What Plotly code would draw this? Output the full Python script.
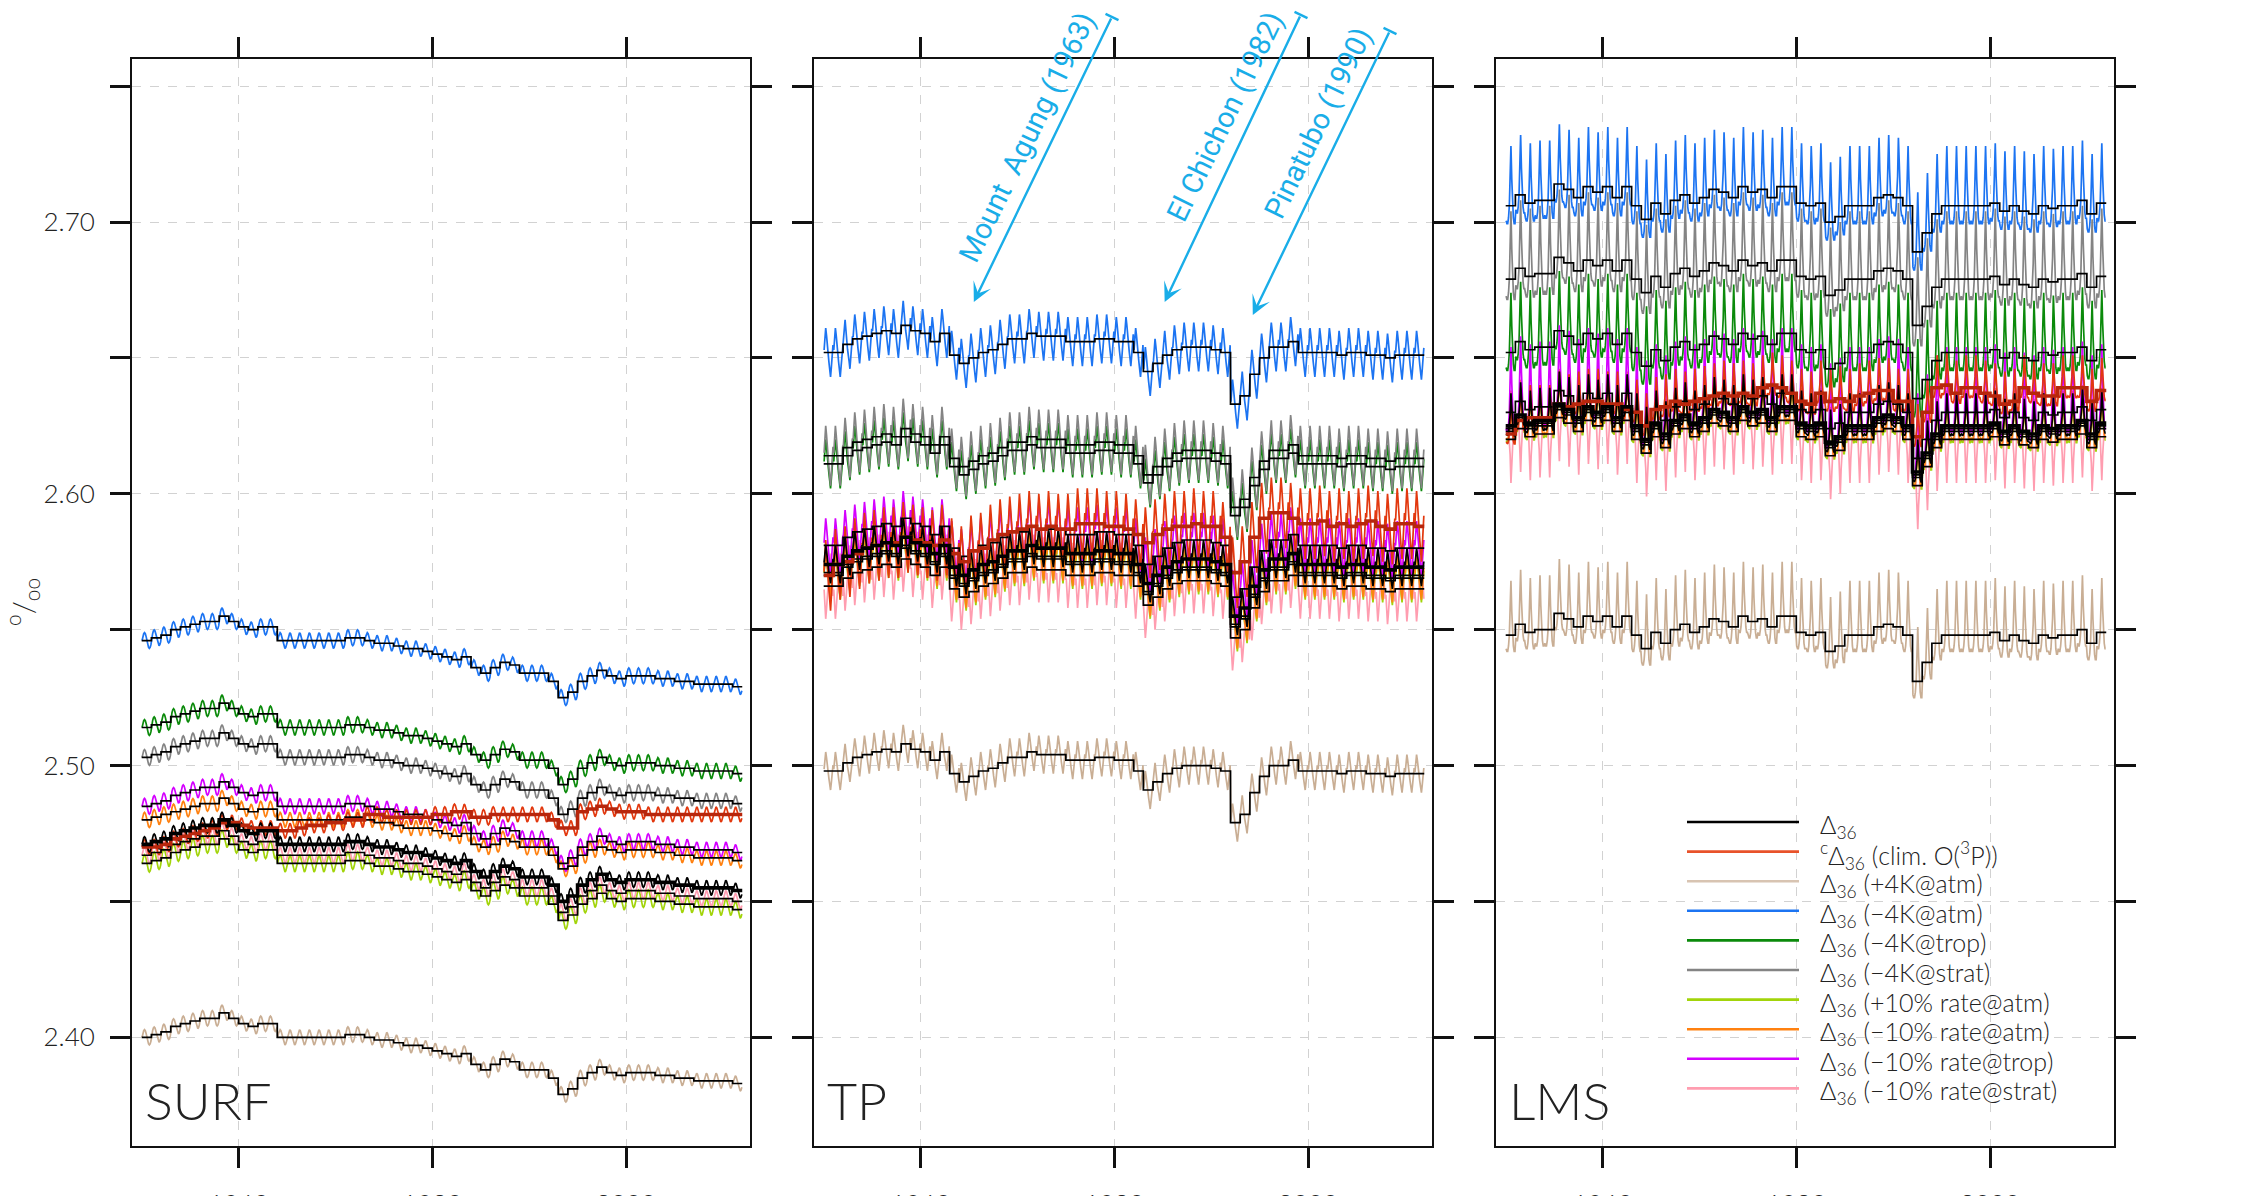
import numpy as np
import plotly.graph_objects as go

# ---------------- data (per mil), annual means 1950-2011 ----------------
YEARS = list(range(1950, 2012))

SURF_BASE = [2.471, 2.472, 2.473, 2.475, 2.476, 2.477, 2.478, 2.478, 2.480, 2.478,
             2.476, 2.475, 2.476, 2.476, 2.471, 2.471, 2.471, 2.471, 2.471, 2.471,
             2.471, 2.472, 2.472, 2.471, 2.470, 2.470, 2.469, 2.468, 2.468, 2.467,
             2.466, 2.465, 2.464, 2.465, 2.461, 2.459, 2.461, 2.463, 2.462, 2.459,
             2.459, 2.459, 2.456, 2.450, 2.452, 2.456, 2.458, 2.460, 2.458, 2.457,
             2.458, 2.458, 2.458, 2.457, 2.457, 2.456, 2.456, 2.455, 2.455, 2.455,
             2.455, 2.454]
SURF_CLIM = [2.470, 2.470, 2.471, 2.473, 2.474, 2.475, 2.476, 2.477, 2.479, 2.479,
             2.478, 2.477, 2.477, 2.477, 2.476, 2.476, 2.477, 2.478, 2.478, 2.479,
             2.479, 2.480, 2.480, 2.482, 2.482, 2.481, 2.481, 2.481, 2.481, 2.481,
             2.482, 2.482, 2.483, 2.483, 2.481, 2.481, 2.482, 2.482, 2.482, 2.482,
             2.482, 2.482, 2.480, 2.477, 2.477, 2.483, 2.484, 2.485, 2.484, 2.483,
             2.483, 2.483, 2.482, 2.482, 2.482, 2.482, 2.482, 2.482, 2.482, 2.482,
             2.482, 2.482]
SURF_P4K_ATM = [2.400, 2.401, 2.402, 2.404, 2.405, 2.406, 2.407, 2.407, 2.409, 2.407,
                2.405, 2.404, 2.405, 2.405, 2.400, 2.400, 2.400, 2.400, 2.400, 2.400,
                2.400, 2.401, 2.401, 2.400, 2.399, 2.399, 2.398, 2.397, 2.397, 2.396,
                2.395, 2.394, 2.393, 2.394, 2.390, 2.388, 2.390, 2.392, 2.391, 2.388,
                2.388, 2.388, 2.385, 2.379, 2.381, 2.385, 2.387, 2.389, 2.387, 2.386,
                2.387, 2.387, 2.387, 2.386, 2.386, 2.385, 2.385, 2.384, 2.384, 2.384,
                2.384, 2.383]
SURF_M4K_ATM = [2.546, 2.547, 2.548, 2.550, 2.551, 2.552, 2.553, 2.553, 2.555, 2.553,
                2.551, 2.550, 2.551, 2.551, 2.546, 2.546, 2.546, 2.546, 2.546, 2.546,
                2.546, 2.547, 2.547, 2.546, 2.545, 2.545, 2.544, 2.543, 2.543, 2.542,
                2.541, 2.540, 2.539, 2.540, 2.536, 2.534, 2.536, 2.538, 2.537, 2.534,
                2.534, 2.534, 2.531, 2.525, 2.527, 2.531, 2.533, 2.535, 2.533, 2.532,
                2.533, 2.533, 2.533, 2.532, 2.532, 2.531, 2.531, 2.530, 2.530, 2.530,
                2.530, 2.529]
SURF_M4K_TROP = [2.514, 2.515, 2.516, 2.518, 2.519, 2.520, 2.521, 2.521, 2.523, 2.521,
                 2.519, 2.518, 2.519, 2.519, 2.514, 2.514, 2.514, 2.514, 2.514, 2.514,
                 2.514, 2.515, 2.515, 2.514, 2.513, 2.513, 2.512, 2.511, 2.511, 2.510,
                 2.509, 2.508, 2.507, 2.508, 2.504, 2.502, 2.504, 2.506, 2.505, 2.502,
                 2.502, 2.502, 2.499, 2.493, 2.495, 2.499, 2.501, 2.503, 2.501, 2.500,
                 2.501, 2.501, 2.501, 2.500, 2.500, 2.499, 2.499, 2.498, 2.498, 2.498,
                 2.498, 2.497]
SURF_M4K_STRAT = [2.503, 2.504, 2.505, 2.507, 2.508, 2.509, 2.510, 2.510, 2.512, 2.510,
                  2.508, 2.507, 2.508, 2.508, 2.503, 2.503, 2.503, 2.503, 2.503, 2.503,
                  2.503, 2.504, 2.504, 2.503, 2.502, 2.502, 2.501, 2.500, 2.500, 2.499,
                  2.498, 2.497, 2.496, 2.497, 2.493, 2.491, 2.493, 2.495, 2.494, 2.491,
                  2.491, 2.491, 2.488, 2.482, 2.484, 2.488, 2.490, 2.492, 2.490, 2.489,
                  2.490, 2.490, 2.490, 2.489, 2.489, 2.488, 2.488, 2.487, 2.487, 2.487,
                  2.487, 2.486]
SURF_P10_ATM = [2.464, 2.465, 2.466, 2.468, 2.469, 2.470, 2.471, 2.471, 2.473, 2.471,
                2.469, 2.468, 2.469, 2.469, 2.464, 2.464, 2.464, 2.464, 2.464, 2.464,
                2.464, 2.465, 2.465, 2.464, 2.463, 2.463, 2.462, 2.461, 2.461, 2.460,
                2.459, 2.458, 2.457, 2.458, 2.454, 2.452, 2.454, 2.456, 2.455, 2.452,
                2.452, 2.452, 2.449, 2.443, 2.445, 2.449, 2.451, 2.453, 2.451, 2.450,
                2.451, 2.451, 2.451, 2.450, 2.450, 2.449, 2.449, 2.448, 2.448, 2.448,
                2.448, 2.447]
SURF_M10_ATM = [2.480, 2.481, 2.482, 2.483, 2.484, 2.485, 2.486, 2.486, 2.488, 2.486,
                2.484, 2.483, 2.484, 2.484, 2.480, 2.480, 2.480, 2.480, 2.480, 2.480,
                2.480, 2.481, 2.481, 2.480, 2.479, 2.479, 2.478, 2.477, 2.477, 2.477,
                2.476, 2.475, 2.474, 2.475, 2.471, 2.470, 2.471, 2.473, 2.472, 2.470,
                2.470, 2.470, 2.467, 2.462, 2.463, 2.467, 2.469, 2.470, 2.469, 2.468,
                2.469, 2.469, 2.469, 2.468, 2.468, 2.467, 2.467, 2.466, 2.466, 2.466,
                2.466, 2.465]
SURF_M10_TROP = [2.485, 2.486, 2.487, 2.489, 2.490, 2.491, 2.492, 2.492, 2.494, 2.492,
                 2.490, 2.489, 2.490, 2.490, 2.485, 2.485, 2.485, 2.485, 2.485, 2.485,
                 2.485, 2.486, 2.486, 2.485, 2.484, 2.484, 2.483, 2.482, 2.482, 2.481,
                 2.480, 2.479, 2.478, 2.479, 2.475, 2.473, 2.475, 2.477, 2.476, 2.473,
                 2.473, 2.473, 2.470, 2.464, 2.466, 2.470, 2.472, 2.474, 2.472, 2.471,
                 2.472, 2.472, 2.472, 2.471, 2.471, 2.470, 2.470, 2.469, 2.469, 2.469,
                 2.469, 2.468]
SURF_M10_STRAT = [2.467, 2.468, 2.469, 2.471, 2.472, 2.473, 2.474, 2.474, 2.476, 2.474,
                  2.472, 2.471, 2.472, 2.472, 2.467, 2.467, 2.467, 2.467, 2.467, 2.467,
                  2.467, 2.468, 2.468, 2.467, 2.466, 2.466, 2.465, 2.464, 2.464, 2.463,
                  2.462, 2.461, 2.460, 2.461, 2.457, 2.455, 2.457, 2.459, 2.458, 2.455,
                  2.455, 2.455, 2.452, 2.446, 2.448, 2.452, 2.454, 2.456, 2.454, 2.453,
                  2.454, 2.454, 2.454, 2.453, 2.453, 2.452, 2.452, 2.451, 2.451, 2.451,
                  2.451, 2.450]

TP_BASE = [2.574, 2.574, 2.577, 2.579, 2.580, 2.581, 2.582, 2.581, 2.584, 2.582,
           2.581, 2.578, 2.581, 2.573, 2.570, 2.572, 2.574, 2.575, 2.577, 2.579,
           2.579, 2.581, 2.580, 2.580, 2.580, 2.578, 2.578, 2.578, 2.579, 2.579,
           2.578, 2.578, 2.574, 2.567, 2.570, 2.573, 2.575, 2.576, 2.576, 2.576,
           2.575, 2.574, 2.555, 2.558, 2.566, 2.572, 2.576, 2.576, 2.578, 2.574,
           2.574, 2.574, 2.574, 2.573, 2.574, 2.574, 2.573, 2.573, 2.572, 2.573,
           2.573, 2.573]
TP_CLIM = [2.570, 2.574, 2.575, 2.578, 2.580, 2.581, 2.582, 2.582, 2.584, 2.583,
           2.582, 2.581, 2.583, 2.578, 2.575, 2.579, 2.580, 2.583, 2.585, 2.586,
           2.587, 2.588, 2.587, 2.588, 2.587, 2.587, 2.589, 2.589, 2.589, 2.588,
           2.588, 2.587, 2.585, 2.582, 2.585, 2.587, 2.588, 2.588, 2.589, 2.588,
           2.588, 2.584, 2.571, 2.575, 2.584, 2.591, 2.593, 2.593, 2.591, 2.589,
           2.589, 2.590, 2.588, 2.589, 2.588, 2.589, 2.590, 2.588, 2.587, 2.589,
           2.589, 2.588]
TP_P4K_ATM = [2.498, 2.498, 2.501, 2.503, 2.504, 2.505, 2.506, 2.505, 2.508, 2.506,
              2.505, 2.502, 2.505, 2.497, 2.494, 2.496, 2.498, 2.499, 2.501, 2.503,
              2.503, 2.505, 2.504, 2.504, 2.504, 2.502, 2.502, 2.502, 2.503, 2.503,
              2.502, 2.502, 2.498, 2.491, 2.494, 2.497, 2.499, 2.500, 2.500, 2.500,
              2.499, 2.498, 2.479, 2.482, 2.490, 2.496, 2.500, 2.500, 2.502, 2.498,
              2.498, 2.498, 2.498, 2.497, 2.498, 2.498, 2.497, 2.497, 2.496, 2.497,
              2.497, 2.497]
TP_M4K_ATM = [2.652, 2.652, 2.655, 2.657, 2.658, 2.659, 2.660, 2.659, 2.662, 2.660,
              2.659, 2.656, 2.659, 2.651, 2.648, 2.650, 2.652, 2.653, 2.655, 2.657,
              2.657, 2.659, 2.658, 2.658, 2.658, 2.656, 2.656, 2.656, 2.657, 2.657,
              2.656, 2.656, 2.652, 2.645, 2.648, 2.651, 2.653, 2.654, 2.654, 2.654,
              2.653, 2.652, 2.633, 2.636, 2.644, 2.650, 2.654, 2.654, 2.656, 2.652,
              2.652, 2.652, 2.652, 2.651, 2.652, 2.652, 2.651, 2.651, 2.650, 2.651,
              2.651, 2.651]
TP_M4K_TROP = [2.611, 2.611, 2.614, 2.616, 2.617, 2.618, 2.619, 2.618, 2.621, 2.619,
               2.618, 2.615, 2.618, 2.610, 2.607, 2.609, 2.611, 2.612, 2.614, 2.616,
               2.616, 2.618, 2.617, 2.617, 2.617, 2.615, 2.615, 2.615, 2.616, 2.616,
               2.615, 2.615, 2.611, 2.604, 2.607, 2.610, 2.612, 2.613, 2.613, 2.613,
               2.612, 2.611, 2.592, 2.595, 2.603, 2.609, 2.613, 2.613, 2.615, 2.611,
               2.611, 2.611, 2.611, 2.610, 2.611, 2.611, 2.610, 2.610, 2.609, 2.610,
               2.610, 2.610]
TP_M4K_STRAT = [2.614, 2.614, 2.617, 2.619, 2.620, 2.621, 2.622, 2.621, 2.624, 2.622,
                2.621, 2.618, 2.621, 2.613, 2.610, 2.612, 2.614, 2.615, 2.617, 2.619,
                2.619, 2.621, 2.620, 2.620, 2.620, 2.618, 2.618, 2.618, 2.619, 2.619,
                2.618, 2.618, 2.614, 2.607, 2.610, 2.613, 2.615, 2.616, 2.616, 2.616,
                2.615, 2.614, 2.595, 2.598, 2.606, 2.612, 2.616, 2.616, 2.618, 2.614,
                2.614, 2.614, 2.614, 2.613, 2.614, 2.614, 2.613, 2.613, 2.612, 2.613,
                2.613, 2.613]
TP_P10_ATM = [2.570, 2.570, 2.573, 2.575, 2.576, 2.577, 2.578, 2.577, 2.580, 2.578,
              2.577, 2.574, 2.577, 2.569, 2.566, 2.568, 2.570, 2.571, 2.573, 2.575,
              2.575, 2.577, 2.576, 2.576, 2.576, 2.574, 2.574, 2.574, 2.575, 2.575,
              2.574, 2.574, 2.570, 2.563, 2.566, 2.569, 2.571, 2.572, 2.572, 2.572,
              2.571, 2.570, 2.551, 2.554, 2.562, 2.568, 2.572, 2.572, 2.574, 2.570,
              2.570, 2.570, 2.570, 2.569, 2.570, 2.570, 2.569, 2.569, 2.568, 2.569,
              2.569, 2.569]
TP_M10_ATM = [2.571, 2.571, 2.574, 2.576, 2.577, 2.578, 2.579, 2.578, 2.581, 2.579,
              2.578, 2.575, 2.578, 2.570, 2.567, 2.569, 2.571, 2.572, 2.574, 2.576,
              2.576, 2.578, 2.577, 2.577, 2.577, 2.575, 2.575, 2.575, 2.576, 2.576,
              2.575, 2.575, 2.571, 2.564, 2.567, 2.570, 2.572, 2.573, 2.573, 2.573,
              2.572, 2.571, 2.552, 2.555, 2.563, 2.569, 2.573, 2.573, 2.575, 2.571,
              2.571, 2.571, 2.571, 2.570, 2.571, 2.571, 2.570, 2.570, 2.569, 2.570,
              2.570, 2.570]
TP_M10_TROP = [2.581, 2.581, 2.584, 2.586, 2.587, 2.588, 2.589, 2.588, 2.591, 2.589,
               2.588, 2.585, 2.588, 2.580, 2.577, 2.579, 2.581, 2.582, 2.584, 2.586,
               2.586, 2.588, 2.587, 2.587, 2.587, 2.585, 2.585, 2.585, 2.586, 2.586,
               2.585, 2.585, 2.581, 2.574, 2.577, 2.580, 2.582, 2.583, 2.583, 2.583,
               2.582, 2.581, 2.562, 2.565, 2.573, 2.579, 2.583, 2.583, 2.585, 2.581,
               2.581, 2.581, 2.581, 2.580, 2.581, 2.581, 2.580, 2.580, 2.579, 2.580,
               2.580, 2.580]
TP_M10_STRAT = [2.566, 2.566, 2.569, 2.571, 2.572, 2.573, 2.574, 2.573, 2.576, 2.574,
                2.573, 2.570, 2.573, 2.565, 2.562, 2.564, 2.566, 2.567, 2.569, 2.571,
                2.571, 2.573, 2.572, 2.572, 2.572, 2.570, 2.570, 2.570, 2.571, 2.571,
                2.570, 2.570, 2.566, 2.559, 2.562, 2.565, 2.567, 2.568, 2.568, 2.568,
                2.567, 2.566, 2.547, 2.550, 2.558, 2.564, 2.568, 2.568, 2.570, 2.566,
                2.566, 2.566, 2.566, 2.565, 2.566, 2.566, 2.565, 2.565, 2.564, 2.565,
                2.565, 2.565]

LMS_BASE = [2.625, 2.629, 2.626, 2.627, 2.627, 2.633, 2.631, 2.628, 2.632, 2.630,
            2.632, 2.628, 2.632, 2.625, 2.620, 2.626, 2.622, 2.627, 2.629, 2.626,
            2.628, 2.631, 2.630, 2.628, 2.632, 2.630, 2.631, 2.628, 2.632, 2.632,
            2.626, 2.625, 2.626, 2.619, 2.621, 2.625, 2.625, 2.625, 2.628, 2.629,
            2.628, 2.625, 2.608, 2.615, 2.622, 2.625, 2.625, 2.625, 2.625, 2.625,
            2.626, 2.623, 2.625, 2.623, 2.622, 2.625, 2.624, 2.625, 2.625, 2.627,
            2.622, 2.626]
LMS_CLIM = [2.622, 2.627, 2.628, 2.628, 2.628, 2.633, 2.632, 2.633, 2.634, 2.634,
            2.633, 2.633, 2.631, 2.630, 2.625, 2.631, 2.632, 2.634, 2.633, 2.634,
            2.635, 2.636, 2.637, 2.636, 2.637, 2.636, 2.639, 2.640, 2.639, 2.637,
            2.634, 2.633, 2.637, 2.634, 2.635, 2.634, 2.636, 2.637, 2.638, 2.638,
            2.634, 2.634, 2.621, 2.630, 2.639, 2.640, 2.637, 2.639, 2.639, 2.637,
            2.636, 2.633, 2.634, 2.639, 2.637, 2.636, 2.636, 2.639, 2.639, 2.639,
            2.634, 2.638]
LMS_P4K_ATM = [2.548, 2.552, 2.549, 2.550, 2.550, 2.556, 2.554, 2.551, 2.555, 2.553,
               2.555, 2.551, 2.555, 2.548, 2.543, 2.549, 2.545, 2.550, 2.552, 2.549,
               2.551, 2.554, 2.553, 2.551, 2.555, 2.553, 2.554, 2.551, 2.555, 2.555,
               2.549, 2.548, 2.549, 2.542, 2.544, 2.548, 2.548, 2.548, 2.551, 2.552,
               2.551, 2.548, 2.531, 2.538, 2.545, 2.548, 2.548, 2.548, 2.548, 2.548,
               2.549, 2.546, 2.548, 2.546, 2.545, 2.548, 2.547, 2.548, 2.548, 2.550,
               2.545, 2.549]
LMS_M4K_ATM = [2.706, 2.710, 2.707, 2.708, 2.708, 2.714, 2.712, 2.709, 2.713, 2.711,
               2.713, 2.709, 2.713, 2.706, 2.701, 2.707, 2.703, 2.708, 2.710, 2.707,
               2.709, 2.712, 2.711, 2.709, 2.713, 2.711, 2.712, 2.709, 2.713, 2.713,
               2.707, 2.706, 2.707, 2.700, 2.702, 2.706, 2.706, 2.706, 2.709, 2.710,
               2.709, 2.706, 2.689, 2.696, 2.703, 2.706, 2.706, 2.706, 2.706, 2.706,
               2.707, 2.704, 2.706, 2.704, 2.703, 2.706, 2.705, 2.706, 2.706, 2.708,
               2.703, 2.707]
LMS_M4K_TROP = [2.652, 2.656, 2.653, 2.654, 2.654, 2.660, 2.658, 2.655, 2.659, 2.657,
                2.659, 2.655, 2.659, 2.652, 2.647, 2.653, 2.649, 2.654, 2.656, 2.653,
                2.655, 2.658, 2.657, 2.655, 2.659, 2.657, 2.658, 2.655, 2.659, 2.659,
                2.653, 2.652, 2.653, 2.646, 2.648, 2.652, 2.652, 2.652, 2.655, 2.656,
                2.655, 2.652, 2.635, 2.642, 2.649, 2.652, 2.652, 2.652, 2.652, 2.652,
                2.653, 2.650, 2.652, 2.650, 2.649, 2.652, 2.651, 2.652, 2.652, 2.654,
                2.649, 2.653]
LMS_M4K_STRAT = [2.679, 2.683, 2.680, 2.681, 2.681, 2.687, 2.685, 2.682, 2.686, 2.684,
                 2.686, 2.682, 2.686, 2.679, 2.674, 2.680, 2.676, 2.681, 2.683, 2.680,
                 2.682, 2.685, 2.684, 2.682, 2.686, 2.684, 2.685, 2.682, 2.686, 2.686,
                 2.680, 2.679, 2.680, 2.673, 2.675, 2.679, 2.679, 2.679, 2.682, 2.683,
                 2.682, 2.679, 2.662, 2.669, 2.676, 2.679, 2.679, 2.679, 2.679, 2.679,
                 2.680, 2.677, 2.679, 2.677, 2.676, 2.679, 2.678, 2.679, 2.679, 2.681,
                 2.676, 2.680]
LMS_P10_ATM = [2.623, 2.627, 2.624, 2.625, 2.625, 2.631, 2.629, 2.626, 2.630, 2.628,
               2.630, 2.626, 2.630, 2.623, 2.618, 2.624, 2.620, 2.625, 2.627, 2.624,
               2.626, 2.629, 2.628, 2.626, 2.630, 2.628, 2.629, 2.626, 2.630, 2.630,
               2.624, 2.623, 2.624, 2.617, 2.619, 2.623, 2.623, 2.623, 2.626, 2.627,
               2.626, 2.623, 2.606, 2.613, 2.620, 2.623, 2.623, 2.623, 2.623, 2.623,
               2.624, 2.621, 2.623, 2.621, 2.620, 2.623, 2.622, 2.623, 2.623, 2.625,
               2.620, 2.624]
LMS_M10_ATM = [2.624, 2.628, 2.625, 2.626, 2.626, 2.632, 2.630, 2.627, 2.631, 2.629,
               2.631, 2.627, 2.631, 2.624, 2.619, 2.625, 2.621, 2.626, 2.628, 2.625,
               2.627, 2.630, 2.629, 2.627, 2.631, 2.629, 2.630, 2.627, 2.631, 2.631,
               2.625, 2.624, 2.625, 2.618, 2.620, 2.624, 2.624, 2.624, 2.627, 2.628,
               2.627, 2.624, 2.607, 2.614, 2.621, 2.624, 2.624, 2.624, 2.624, 2.624,
               2.625, 2.622, 2.624, 2.622, 2.621, 2.624, 2.623, 2.624, 2.624, 2.626,
               2.621, 2.625]
LMS_M10_TROP = [2.630, 2.634, 2.631, 2.632, 2.632, 2.638, 2.636, 2.633, 2.637, 2.635,
                2.637, 2.633, 2.637, 2.630, 2.625, 2.631, 2.627, 2.632, 2.634, 2.631,
                2.633, 2.636, 2.635, 2.633, 2.637, 2.635, 2.636, 2.633, 2.637, 2.637,
                2.631, 2.630, 2.631, 2.624, 2.626, 2.630, 2.630, 2.630, 2.633, 2.634,
                2.633, 2.630, 2.613, 2.620, 2.627, 2.630, 2.630, 2.630, 2.630, 2.630,
                2.631, 2.628, 2.630, 2.628, 2.627, 2.630, 2.629, 2.630, 2.630, 2.632,
                2.627, 2.631]
LMS_M10_STRAT = [2.620, 2.624, 2.621, 2.622, 2.622, 2.628, 2.626, 2.623, 2.627, 2.625,
                 2.627, 2.623, 2.627, 2.620, 2.615, 2.621, 2.617, 2.622, 2.624, 2.621,
                 2.623, 2.626, 2.625, 2.623, 2.627, 2.625, 2.626, 2.623, 2.627, 2.627,
                 2.621, 2.620, 2.621, 2.614, 2.616, 2.620, 2.620, 2.620, 2.623, 2.624,
                 2.623, 2.620, 2.603, 2.610, 2.617, 2.620, 2.620, 2.620, 2.620, 2.620,
                 2.621, 2.618, 2.620, 2.618, 2.617, 2.620, 2.619, 2.620, 2.620, 2.622,
                 2.617, 2.621]

# Seasonal (monthly) anomaly shapes, normalised, and per-series amplitudes (per mil)
SURF_SEASON = [0.0, 0.5, 0.87, 1.0, 0.87, 0.5, 0.0, -0.5, -0.87, -1.0, -0.87, -0.5]
TP_SEASON = [0.1, 0.6, 1.0, 0.7, 0.2, -0.2, -0.4, -0.7, -1.0, -0.6, -0.1, 0.3]
LMS_SEASON = [-0.25, -0.3, -0.3, -0.2, 0.0, 0.35, 1.0, 0.45, 0.05, -0.2, -0.3, -0.3]

# order: base, clim, +4K atm, -4K atm, -4K trop, -4K strat, +10% atm, -10% atm, -10% trop, -10% strat
SURF_AMP = [0.0028, 0.0028, 0.0028, 0.0029, 0.0029, 0.0029, 0.0032, 0.0028, 0.0029, 0.0030]
TP_AMP = [0.007, 0.013, 0.007, 0.009, 0.009, 0.011, 0.009, 0.009, 0.010, -0.012]
LMS_AMP = [0.012, 0.012, 0.020, 0.022, 0.022, 0.025, 0.014, 0.014, 0.024, -0.016]

SERIES_NAMES = [
    "Δ<sub>36</sub>",
    "<sup>c</sup>Δ<sub>36</sub> (clim. O(<sup>3</sup>P))",
    "Δ<sub>36</sub> (+4K@atm)",
    "Δ<sub>36</sub> (−4K@atm)",
    "Δ<sub>36</sub> (−4K@trop)",
    "Δ<sub>36</sub> (−4K@strat)",
    "Δ<sub>36</sub> (+10% rate@atm)",
    "Δ<sub>36</sub> (−10% rate@atm)",
    "Δ<sub>36</sub> (−10% rate@trop)",
    "Δ<sub>36</sub> (−10% rate@strat)",
]
SERIES_COLORS = ["#000000", "#E2380E", "#C9AE94", "#1C74F2", "#0B8A0B",
                 "#848484", "#A2D40A", "#FF8110", "#D400FF", "#FF9DB0"]
LEGEND_COLORS = ["#000000", "#E8522A", "#D8C4B2", "#1C74F2", "#0B8A0B",
                 "#848484", "#A2D40A", "#FF8110", "#D400FF", "#FF9DB0"]
CLIM_STEP_COLOR = "#B8260C"

PANELS = [
    ("SURF", [SURF_BASE, SURF_CLIM, SURF_P4K_ATM, SURF_M4K_ATM, SURF_M4K_TROP, SURF_M4K_STRAT,
              SURF_P10_ATM, SURF_M10_ATM, SURF_M10_TROP, SURF_M10_STRAT], SURF_SEASON, SURF_AMP),
    ("TP", [TP_BASE, TP_CLIM, TP_P4K_ATM, TP_M4K_ATM, TP_M4K_TROP, TP_M4K_STRAT,
            TP_P10_ATM, TP_M10_ATM, TP_M10_TROP, TP_M10_STRAT], TP_SEASON, TP_AMP),
    ("LMS", [LMS_BASE, LMS_CLIM, LMS_P4K_ATM, LMS_M4K_ATM, LMS_M4K_TROP, LMS_M4K_STRAT,
             LMS_P10_ATM, LMS_M10_ATM, LMS_M10_TROP, LMS_M10_STRAT], LMS_SEASON, LMS_AMP),
]

X_TICKS = [1960, 1980, 2000]
Y_TICKS = [2.40, 2.45, 2.50, 2.55, 2.60, 2.65, 2.70, 2.75]
Y_TICKTEXT = ["2.40", "", "2.50", "", "2.60", "", "2.70", ""]

VOLCANOES = ["Mount  Agung (1963)", "El Chichon (1982)", "Pinatubo (1990)"]
VOLC_HEAD_YEAR = [1965.5, 1985.2, 1994.3]
VOLC_HEAD_VAL = [2.6706, 2.6706, 2.6658]

# ---------------- layout geometry ----------------
W, H = 2242, 1196
OFF = 8  # page body margin of the browser
ML, MR, MT, MB = 132 - OFF, 128 + OFF, 59 - OFF, 50 + OFF
PW, PH = W - ML - MR, H - MT - MB
DOMAINS = [[0.0, 0.3118], [0.3441, 0.6559], [0.6882, 1.0]]
FONT = "Lato"
CYAN = "#19ADE8"


def px(xp):
    return (xp - OFF - ML) / PW


def py(yp):
    return 1 - (yp - OFF - MT) / PH


order = [2, 3, 4, 5, 6, 9, 7, 8, 1, 0]  # drawing order of lines
fig = go.Figure()
n_years = len(YEARS)
month_x = (np.repeat(np.array(YEARS, dtype=float), 12)
           + np.tile((np.arange(12) + 0.5) / 12.0, n_years))
step_x = YEARS + [YEARS[-1] + 1]

for p, (label, series, season, amps) in enumerate(PANELS):
    xa = "x" if p == 0 else f"x{p + 1}"
    ya = "y" if p == 0 else f"y{p + 1}"
    season_arr = np.tile(np.array(season), n_years)
    for i in order:
        monthly = np.repeat(np.array(series[i]), 12) + amps[i] * season_arr
        fig.add_trace(go.Scatter(
            x=month_x, y=monthly, mode="lines", xaxis=xa, yaxis=ya,
            line=dict(color=SERIES_COLORS[i], width=1.7), hoverinfo="skip",
            showlegend=False))
    for i in order:
        vals = list(series[i]) + [series[i][-1]]
        if i == 0:
            col, wid = "#000000", 3.6
        elif i == 1:
            col, wid = CLIM_STEP_COLOR, 3.6
        else:
            col, wid = "#000000", 1.7
        fig.add_trace(go.Scatter(
            x=step_x, y=vals, mode="lines", line_shape="hv", xaxis=xa, yaxis=ya,
            line=dict(color=col, width=wid), hoverinfo="skip", showlegend=False))

axis_common = dict(
    showline=True, linecolor="#111111", linewidth=2, mirror="allticks",
    ticks="outside", ticklen=20, tickwidth=2.5, tickcolor="#111111",
    showgrid=True, gridcolor="#D2D2D2", griddash="dash", gridwidth=1.3,
    zeroline=False, automargin=False,
)
layout = dict(
    width=W, height=H, margin=dict(l=ML, r=MR, t=MT, b=MB, autoexpand=False),
    plot_bgcolor="white", paper_bgcolor="white", showlegend=False,
    font=dict(family=FONT, color="#222222"),
)
for p in range(3):
    xkey = "xaxis" if p == 0 else f"xaxis{p + 1}"
    ykey = "yaxis" if p == 0 else f"yaxis{p + 1}"
    ya = "y" if p == 0 else f"y{p + 1}"
    xa = "x" if p == 0 else f"x{p + 1}"
    layout[xkey] = dict(axis_common, domain=DOMAINS[p], anchor=ya,
                        range=[1949.0, 2012.8], tickvals=X_TICKS,
                        ticktext=[str(v) for v in X_TICKS],
                        tickfont=dict(size=26, family=FONT, color="#222222", weight=300),
                        ticklabelstandoff=14)
    layout[ykey] = dict(axis_common, domain=[0, 1], anchor=xa,
                        range=[2.36, 2.76], tickvals=Y_TICKS, ticktext=Y_TICKTEXT,
                        showticklabels=(p == 0),
                        tickfont=dict(size=26, family=FONT, color="#222222", weight=300),
                        ticklabelstandoff=10)
fig.update_layout(**layout)

annotations = []
shapes = []
for p, (label, _, _, _) in enumerate(PANELS):
    xa = "x" if p == 0 else f"x{p + 1}"
    ya = "y" if p == 0 else f"y{p + 1}"
    annotations.append(dict(
        text=label, xref=f"{xa} domain", yref=f"{ya} domain", x=0.018, y=0.012,
        xanchor="left", yanchor="bottom", showarrow=False,
        font=dict(size=52, family=FONT, color="#222222", weight=300)))

# y-axis unit label
annotations.append(dict(
    text="<sup>o</sup>/<sub>oo</sub>", xref="paper", yref="paper",
    x=px(22), y=py(602), textangle=-90, showarrow=False,
    xanchor="center", yanchor="middle",
    font=dict(size=30, family=FONT, color="#222222", weight=300)))

# volcano arrows (heads in TP data coordinates)
TAIL_OFFSETS = [(138, -285), (136, -287), (137, -284)]
HEAD_PX = [(974, 302), (1165, 302), (1253, 315)]
TEXT_CENTER_PX = [(1027, 137), (1225, 117), (1318, 123)]
for k, name in enumerate(VOLCANOES):
    axo, ayo = TAIL_OFFSETS[k]
    annotations.append(dict(
        x=VOLC_HEAD_YEAR[k], y=VOLC_HEAD_VAL[k], xref="x2", yref="y2",
        ax=axo, ay=ayo, text="", showarrow=True, arrowhead=3, arrowsize=1.35,
        arrowwidth=2.4, arrowcolor=CYAN, standoff=0))
    tx, ty = HEAD_PX[k][0] + axo, HEAD_PX[k][1] + ayo
    shapes.append(dict(type="line", xref="paper", yref="paper",
                       x0=px(tx - 6.5), y0=py(ty - 3.2), x1=px(tx + 6.5), y1=py(ty + 3.2),
                       line=dict(color=CYAN, width=2.4)))
    cx, cy = TEXT_CENTER_PX[k]
    annotations.append(dict(
        text=name, xref="paper", yref="paper", x=px(cx), y=py(cy),
        textangle=-64, showarrow=False, xanchor="center", yanchor="middle",
        font=dict(size=29, family="Roboto", color=CYAN)))

# legend (drawn manually in LMS panel)
for i, name in enumerate(SERIES_NAMES):
    yrow = 822 + 29.6 * i
    shapes.append(dict(type="line", xref="paper", yref="paper",
                       x0=px(1687), x1=px(1799), y0=py(yrow), y1=py(yrow),
                       line=dict(color=LEGEND_COLORS[i], width=2.6)))
    annotations.append(dict(
        text=name, xref="paper", yref="paper", x=px(1818), y=py(yrow + 4),
        xanchor="left", yanchor="middle", showarrow=False,
        font=dict(size=25, family=FONT, color="#222222", weight=300)))

fig.update_layout(annotations=annotations, shapes=shapes)
fig.write_html("out.html")
